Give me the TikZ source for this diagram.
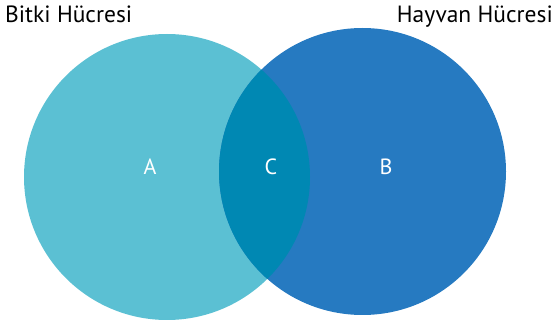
\documentclass[tikz,border=0pt]{standalone}
\usepackage{fontspec}
\setmainfont{PT Sans}
\definecolor{cA}{RGB}{91,192,211}
\definecolor{cB}{RGB}{38,122,193}
\definecolor{cC}{RGB}{0,136,179}
\begin{document}
\begin{tikzpicture}[x=1pt,y=-1pt,
  title/.style={font=\fontsize{23.5}{26}\selectfont, inner sep=0pt, anchor=base west},
  lab/.style={font=\fontsize{22}{24}\selectfont, text=white, inner sep=0pt}]
\useasboundingbox (0,0) rectangle (555,323);
\fill[cA] (167,177) circle[radius=143];
\fill[cB] (362.5,171.5) circle[radius=143.5];
\begin{scope}
  \clip (167,177) circle[radius=143];
  \fill[cC] (362.5,171.5) circle[radius=143.5];
\end{scope}
\node[title] (t1) at (5,23) {Bitki Hücresi};
\node[title, anchor=base east] (t2) at (553,23) {Hayvan Hücresi};
\node[lab] (a) at (150,167) {A};
\node[lab] (c) at (271,167) {C};
\node[lab] (b) at (386,167) {B};
\end{tikzpicture}
\end{document}
